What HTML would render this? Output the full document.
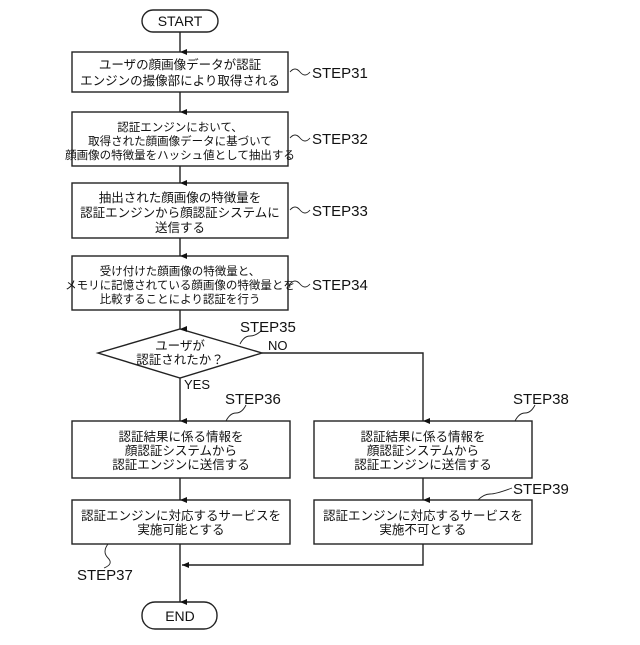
<!DOCTYPE html>
<html><head><meta charset="utf-8"><style>
body{margin:0;background:#fff;}
svg text{font-family:"Liberation Sans","Noto Sans CJK JP",sans-serif;fill:#111;}
.t{font-size:12.5px;text-anchor:middle;}
.s{font-size:15px;}
</style></head><body>
<svg width="640" height="640" viewBox="0 0 640 640" xmlns="http://www.w3.org/2000/svg">
<defs><marker id="a" markerWidth="8" markerHeight="8" refX="4" refY="7" orient="auto" markerUnits="userSpaceOnUse"><path d="M1,0 L4,7 L7,0 Z" fill="#111"/></marker>
<marker id="l" markerWidth="8" markerHeight="8" refX="7" refY="4" orient="auto" markerUnits="userSpaceOnUse"><path d="M0,1 L7,4 L0,7 Z" fill="#111"/></marker></defs>
<g fill="none" stroke="#222" stroke-width="1.4">
<rect x="142" y="10" width="76" height="22" rx="11"/>
<rect x="72" y="52" width="216" height="40"/>
<rect x="72" y="112" width="216" height="54"/>
<rect x="72" y="183" width="216" height="55"/>
<rect x="72" y="256" width="216" height="54"/>
<path d="M98,353 L180,329 L262,353 L180,378 Z"/>
<rect x="72" y="421" width="218" height="57"/>
<rect x="72" y="500" width="218" height="44"/>
<rect x="314" y="421" width="218" height="57"/>
<rect x="314" y="500" width="218" height="44"/>
<rect x="142" y="602" width="75" height="27" rx="13"/>
<path d="M180,32 V52" marker-end="url(#a)"/>
<path d="M180,92 V112" marker-end="url(#a)"/>
<path d="M180,166 V183" marker-end="url(#a)"/>
<path d="M180,238 V256" marker-end="url(#a)"/>
<path d="M180,310 V329" marker-end="url(#a)"/>
<path d="M180,378 V421" marker-end="url(#a)"/>
<path d="M180,478 V500" marker-end="url(#a)"/>
<path d="M262,353 H423 V421" marker-end="url(#a)"/>
<path d="M423,478 V500" marker-end="url(#a)"/>
<path d="M180,544 V602" marker-end="url(#a)"/>
<path d="M423,544 V565 H182" marker-end="url(#l)"/>
<g stroke-width="0.9">
<path d="M290,72 q5,-6 10,0 t10,0"/>
<path d="M290,138 q5,-6 10,0 t10,0"/>
<path d="M290,210 q5,-6 10,0 t10,0"/>
<path d="M290,284 q5,-6 10,0 t10,0"/>
<path d="M240,344 q4,-8 10,-8 t12,-6"/>
<path d="M226,421 q4,-8 10,-8 t10,-8"/>
<path d="M515,421 q4,-8 10,-8 t10,-8"/>
<path d="M478,500 q6,-6 12,-6 t22,-6"/>
<path d="M108,544 q-6,8 0,14 t-4,10"/>
</g>
</g>
<text x="180" y="26" class="t" style="font-size:14px">START</text>
<text x="180" y="69" class="t">ユーザの顔画像データが認証</text>
<text x="180" y="85" class="t">エンジンの撮像部により取得される</text>
<text x="180" y="131" class="t" style="font-size:11.5px">認証エンジンにおいて、</text>
<text x="180" y="145" class="t" style="font-size:11.5px">取得された顔画像データに基づいて</text>
<text x="180" y="159" class="t" style="font-size:11.5px">顔画像の特徴量をハッシュ値として抽出する</text>
<text x="180" y="202" class="t">抽出された顔画像の特徴量を</text>
<text x="180" y="217" class="t">認証エンジンから顔認証システムに</text>
<text x="180" y="232" class="t">送信する</text>
<text x="180" y="275" class="t" style="font-size:11.5px">受け付けた顔画像の特徴量と、</text>
<text x="180" y="289" class="t" style="font-size:11.5px">メモリに記憶されている顔画像の特徴量とを</text>
<text x="180" y="303" class="t" style="font-size:11.5px">比較することにより認証を行う</text>
<text x="180" y="350" class="t">ユーザが</text>
<text x="180" y="364" class="t">認証されたか？</text>
<text x="184" y="389" class="s" style="font-size:13px">YES</text>
<text x="268" y="350" class="s" style="font-size:13px">NO</text>
<text x="181" y="441" class="t">認証結果に係る情報を</text>
<text x="181" y="455" class="t">顔認証システムから</text>
<text x="181" y="469" class="t">認証エンジンに送信する</text>
<text x="181" y="520" class="t">認証エンジンに対応するサービスを</text>
<text x="181" y="534" class="t">実施可能とする</text>
<text x="423" y="441" class="t">認証結果に係る情報を</text>
<text x="423" y="455" class="t">顔認証システムから</text>
<text x="423" y="469" class="t">認証エンジンに送信する</text>
<text x="423" y="520" class="t">認証エンジンに対応するサービスを</text>
<text x="423" y="534" class="t">実施不可とする</text>
<text x="180" y="621" class="t" style="font-size:14px">END</text>
<text x="312" y="78" class="s">STEP31</text>
<text x="312" y="144" class="s">STEP32</text>
<text x="312" y="216" class="s">STEP33</text>
<text x="312" y="290" class="s">STEP34</text>
<text x="240" y="332" class="s">STEP35</text>
<text x="225" y="404" class="s">STEP36</text>
<text x="513" y="404" class="s">STEP38</text>
<text x="513" y="494" class="s">STEP39</text>
<text x="77" y="580" class="s">STEP37</text>
</svg>
</body></html>
